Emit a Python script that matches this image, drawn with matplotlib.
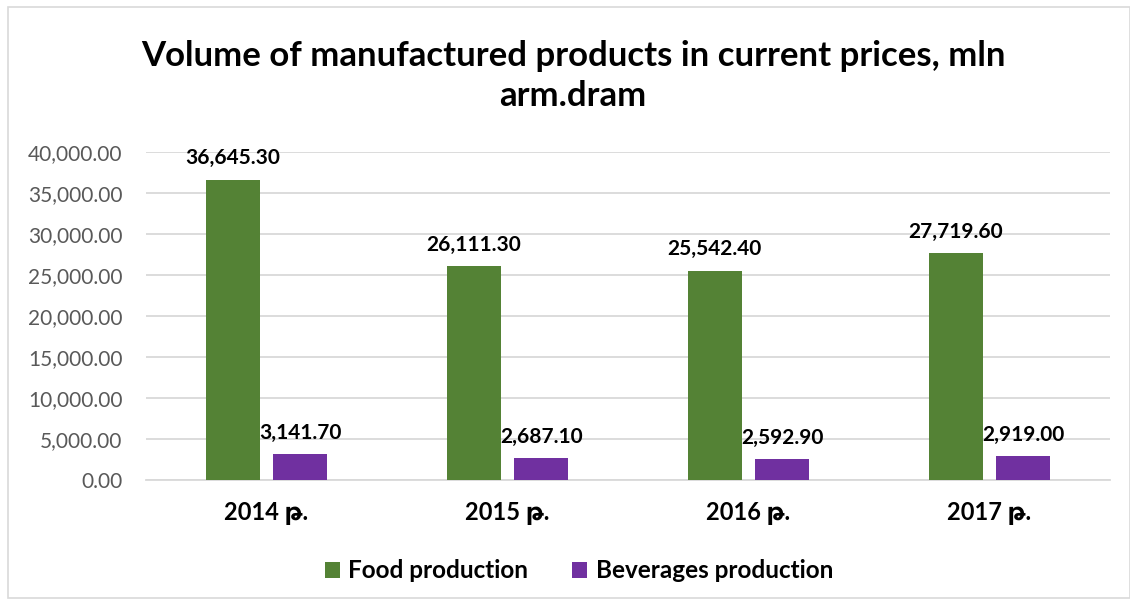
import matplotlib
matplotlib.use("Agg")
import matplotlib.pyplot as plt
from matplotlib.patches import Rectangle
from matplotlib.ticker import FuncFormatter

categories = ["2014 թ.", "2015 թ.", "2016 թ.", "2017 թ."]
food = [36645.30, 26111.30, 25542.40, 27719.60]
beverages = [3141.70, 2687.10, 2592.90, 2919.00]
series_names = ["Food production", "Beverages production"]
title = "Volume of manufactured products in current prices, mln\narm.dram"

FAM = ["Lato", "DejaVu Sans"]
plt.rcParams["font.family"] = FAM

fig = plt.figure(figsize=(11.3, 6.05), dpi=100)
fig.patches.append(Rectangle((8/1130, 7/605), 1 - 8/1130, 1 - 14/605, transform=fig.transFigure,
                             fill=False, edgecolor="#d9d9d9", linewidth=1.2))

ax = fig.add_axes([146/1130, 1 - 480/605, (1110 - 146)/1130, (480 - 152)/605])
x = list(range(len(categories)))
w = 0.224
off = 0.141
green = "#548235"
purple = "#7030a0"
b1 = ax.bar([i - off for i in x], food, width=w, color=green, label=series_names[0], zorder=3)
b2 = ax.bar([i + off for i in x], beverages, width=w, color=purple, label=series_names[1], zorder=3)

for bars, vals in ((b1, food), (b2, beverages)):
    for r, v in zip(bars, vals):
        ax.annotate(f"{v:,.2f}", (r.get_x() + r.get_width()/2, v), xytext=(0, 8),
                    textcoords="offset points", ha="center", va="bottom",
                    fontsize=15, fontweight="bold", color="black", family=FAM)

ax.set_xlim(-0.5, 3.5)
ax.set_ylim(0, 40000)
ax.set_yticks(range(0, 40001, 5000))
ax.yaxis.set_major_formatter(FuncFormatter(lambda v, p: f"{v:,.2f}"))
ax.grid(axis="y", color="#d9d9d9", linewidth=1.3, zorder=0)
ax.set_axisbelow(True)
for s in ["top", "right", "left"]:
    ax.spines[s].set_visible(False)
ax.spines["bottom"].set_color("#d9d9d9")
ax.spines["bottom"].set_linewidth(1.3)
ax.tick_params(axis="y", length=0, labelsize=15, labelcolor="#595959", pad=17)
ax.tick_params(axis="x", length=0, pad=16)
ax.set_xticks(x)
ax.set_xticklabels(categories, fontsize=17, fontweight="bold", family=FAM)

fig.text(573/1130, 1 - 76/605, title, ha="center", va="center", fontsize=25,
         fontweight="bold", linespacing=1.3, family=FAM)

fig.legend(handles=[b1, b2], labels=series_names, loc="center", bbox_to_anchor=(579/1130, 1 - 571/605),
           ncol=2, frameon=False, handlelength=0.62, handleheight=0.62,
           handletextpad=0.35, columnspacing=1.8, prop={"weight": "bold", "size": 17.5, "family": FAM})

fig.savefig("out.png", dpi=100)
